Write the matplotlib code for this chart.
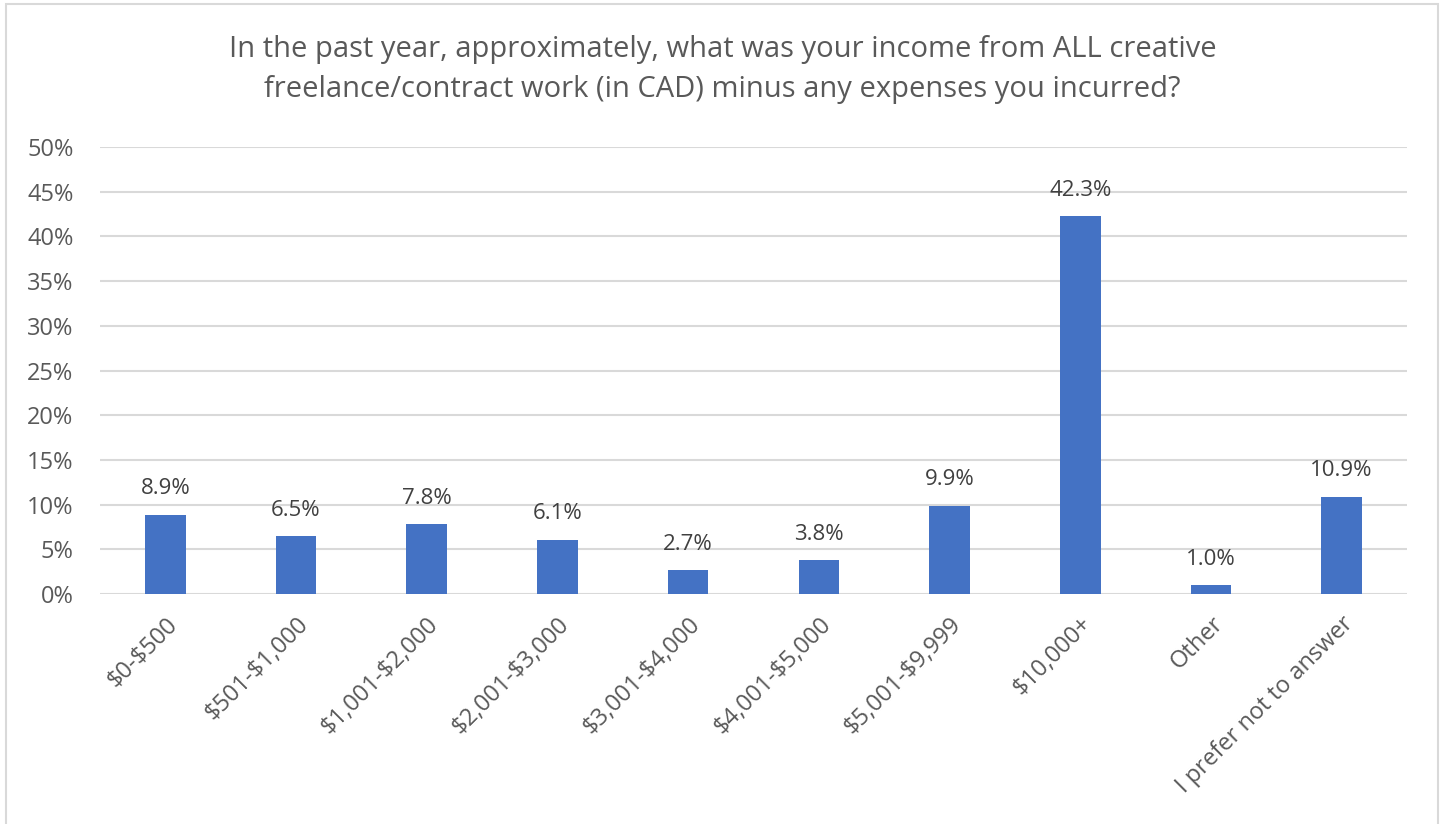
import matplotlib.pyplot as plt
from matplotlib.patches import Rectangle
from matplotlib.ticker import FuncFormatter

plt.rcParams['font.family'] = ['Open Sans', 'DejaVu Sans']
plt.rcParams['text.parse_math'] = False

categories = ['$0-$500', '$501-$1,000', '$1,001-$2,000', '$2,001-$3,000',
              '$3,001-$4,000', '$4,001-$5,000', '$5,001-$9,999', '$10,000+',
              'Other', 'I prefer not to answer']
shares = [8.9, 6.5, 7.8, 6.1, 2.7, 3.8, 9.9, 42.3, 1.0, 10.9]
title = ('In the past year, approximately, what was your income from ALL creative\n'
         'freelance/contract work (in CAD) minus any expenses you incurred?')

text_grey = '#595959'
bar_blue = '#4472C4'
grid_grey = '#D9D9D9'

fig = plt.figure(figsize=(14.45, 8.24), dpi=100)
ax = fig.add_axes([0.0692, 0.279, 0.9045, 0.5426])

# outer chart border
fig.patches.append(Rectangle((0.004, -0.01), 0.991, 1.005, transform=fig.transFigure,
                             fill=False, edgecolor='#D9D9D9', linewidth=1.5))

x = range(len(categories))
bars = ax.bar(x, shares, width=0.31, color=bar_blue, zorder=3)
for b, v in zip(bars, shares):
    ax.annotate('{:.1f}%'.format(v), (b.get_x() + b.get_width() / 2, v),
                xytext=(0, 11), textcoords='offset points', ha='center', va='bottom',
                fontsize=16, color='#404040')

ax.set_xlim(-0.5, len(categories) - 0.5)
ax.set_ylim(0, 50)
ax.set_yticks(range(0, 51, 5))
ax.yaxis.set_major_formatter(FuncFormatter(lambda v, p: '{:.0f}%'.format(v)))
ax.set_xticks(list(x))
ax.set_xticklabels(categories, rotation=45, ha='right', rotation_mode='anchor')
ax.tick_params(axis='both', length=0, labelsize=17, colors=text_grey)
ax.tick_params(axis='x', pad=13)
ax.tick_params(axis='y', pad=19)
ax.grid(axis='y', color=grid_grey, linewidth=1.5, zorder=0)
for s in ax.spines.values():
    s.set_visible(False)

fig.text(0.5, 0.958, title, ha='center', va='top', fontsize=21, color=text_grey,
         linespacing=1.5)

fig.savefig('out.png', dpi=100)
